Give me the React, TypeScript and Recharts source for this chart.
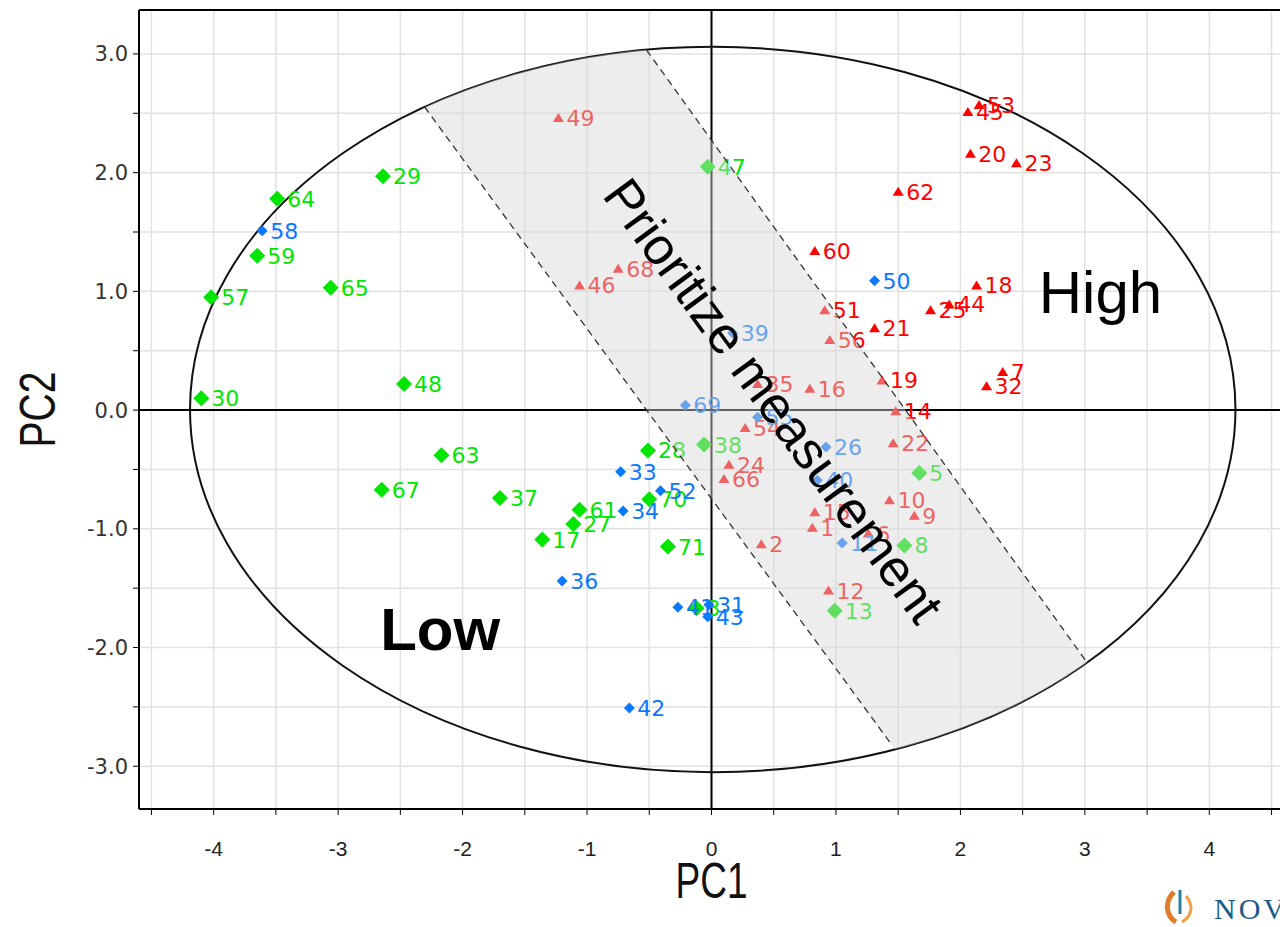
import {
  ScatterChart,
  Scatter,
  XAxis,
  YAxis,
  CartesianGrid,
  ReferenceLine,
  ReferenceArea,
  Label,
} from 'recharts';

// scores
const RED_LABELS = ['49', '68', '46', '62', '60', '51', '21', '56', '35', '16', '19', '14', '22', '54', '24', '66', '2', '15', '1', '6', '10', '9', '12', '45', '53', '20', '23', '18', '25', '44', '7', '32'];
const RED_PC1 = [-1.23, -0.75, -1.06, 1.5, 0.83, 0.91, 1.31, 0.95, 0.37, 0.79, 1.37, 1.48, 1.46, 0.27, 0.14, 0.1, 0.4, 0.83, 0.81, 1.26, 1.43, 1.63, 0.94, 2.06, 2.15, 2.08, 2.45, 2.13, 1.76, 1.91, 2.34, 2.21];
const RED_PC2 = [2.46, 1.19, 1.05, 1.84, 1.34, 0.84, 0.69, 0.59, 0.22, 0.18, 0.25, -0.01, -0.28, -0.15, -0.46, -0.58, -1.13, -0.86, -0.99, -1.04, -0.76, -0.89, -1.52, 2.51, 2.57, 2.16, 2.08, 1.05, 0.84, 0.89, 0.32, 0.2];

const GREEN_LABELS = ['64', '29', '59', '65', '57', '30', '48', '47', '63', '67', '37', '28', '38', '61', '27', '17', '70', '71', '5', '8', '13', '3'];
const GREEN_PC1 = [-3.49, -2.64, -3.65, -3.06, -4.02, -4.1, -2.47, -0.03, -2.17, -2.65, -1.7, -0.51, -0.06, -1.06, -1.11, -1.36, -0.5, -0.35, 1.67, 1.55, 0.99, -0.12];
const GREEN_PC2 = [1.78, 1.97, 1.3, 1.03, 0.95, 0.1, 0.22, 2.05, -0.38, -0.67, -0.74, -0.34, -0.29, -0.84, -0.96, -1.09, -0.75, -1.15, -0.53, -1.14, -1.69, -1.67];

const BLUE_LABELS = ['58', '50', '39', '69', '55', '26', '40', '11', '33', '52', '34', '36', '42', '41', '31', '43'];
const BLUE_PC1 = [-3.61, 1.31, 0.17, -0.21, 0.37, 0.92, 0.85, 1.05, -0.73, -0.41, -0.71, -1.2, -0.66, -0.27, -0.02, -0.03];
const BLUE_PC2 = [1.51, 1.09, 0.65, 0.04, -0.06, -0.31, -0.59, -1.12, -0.52, -0.68, -0.85, -1.44, -2.51, -1.66, -1.64, -1.74];

const X_TICKS = [-4.5, -4, -3.5, -3, -2.5, -2, -1.5, -1, -0.5, 0, 0.5, 1, 1.5, 2, 2.5, 3, 3.5, 4, 4.5];
const Y_TICKS = [-3, -2.5, -2, -1.5, -1, -0.5, 0, 0.5, 1, 1.5, 2, 2.5, 3];
const X_DOMAIN = [-4.6, 4.6];
const Y_DOMAIN = [-3.36, 3.37];

// confidence ellipse bounds and the "prioritize" band edges (data units)
const ELLIPSE_X = [-4.19, 4.21];
const ELLIPSE_Y = [-3.05, 3.06];
const BAND_LEFT = [[-2.305, 2.553], [1.438, -2.805]];
const BAND_RIGHT = [[-0.522, 3.033], [3.004, -2.106]];

const RED = '#ff0000';
const GREEN = '#00e600';
const BLUE = '#0a78ff';
const LABEL_FONT = '"DejaVu Sans", sans-serif';
const SANS = '"Liberation Sans", Arial, sans-serif';

const build = (labels: string[], xs: number[], ys: number[]) =>
  labels.map((id, i) => ({ id, x: xs[i], y: ys[i] }));

const redData = build(RED_LABELS, RED_PC1, RED_PC2);
const greenData = build(GREEN_LABELS, GREEN_PC1, GREEN_PC2);
const blueData = build(BLUE_LABELS, BLUE_PC1, BLUE_PC2);

const marker = (kind: string, color: string) => (props: any) => {
  const { cx, cy, payload } = props;
  if (cx == null || cy == null) return <g />;
  let mark;
  let dx = 8;
  if (kind === 'tri') {
    mark = <polygon points={`${cx},${cy - 5} ${cx + 5.5},${cy + 4} ${cx - 5.5},${cy + 4}`} fill={color} />;
  } else if (kind === 'big') {
    mark = <polygon points={`${cx},${cy - 8} ${cx + 8},${cy} ${cx},${cy + 8} ${cx - 8},${cy}`} fill={color} />;
    dx = 10;
  } else {
    mark = <polygon points={`${cx},${cy - 5.5} ${cx + 5.5},${cy} ${cx},${cy + 5.5} ${cx - 5.5},${cy}`} fill={color} />;
  }
  return (
    <g>
      {mark}
      <text x={cx + dx} y={cy + 8} fontFamily={LABEL_FONT} fontSize={22} fill={color}>
        {payload.id}
      </text>
    </g>
  );
};

// map data coords into pixels from the rect of a reference area spanning [-4,4] x [-3,3]
const frameMap = (r: any) => ({
  px: (x: number) => r.x + ((x + 4) / 8) * r.width,
  py: (y: number) => r.y + ((3 - y) / 6) * r.height,
});

const EllipseShape = (props: any) => {
  const { x, y, width, height } = props;
  return (
    <ellipse cx={x + width / 2} cy={y + height / 2} rx={width / 2} ry={height / 2} fill="none" stroke="#111" strokeWidth={2} />
  );
};

const OverlayShape = (props: any) => {
  const { px, py } = frameMap(props);
  const ecx = px((ELLIPSE_X[0] + ELLIPSE_X[1]) / 2);
  const ecy = py((ELLIPSE_Y[0] + ELLIPSE_Y[1]) / 2);
  const erx = (px(ELLIPSE_X[1]) - px(ELLIPSE_X[0])) / 2;
  const ery = (py(ELLIPSE_Y[0]) - py(ELLIPSE_Y[1])) / 2;
  const ext = (seg: number[][], t: number) => [
    px(seg[0][0] + t * (seg[1][0] - seg[0][0])),
    py(seg[0][1] + t * (seg[1][1] - seg[0][1])),
  ];
  const poly = [ext(BAND_LEFT, -0.3), ext(BAND_RIGHT, -0.3), ext(BAND_RIGHT, 1.3), ext(BAND_LEFT, 1.3)]
    .map((p) => p.join(','))
    .join(' ');
  const l1 = ext(BAND_LEFT, 0);
  const l2 = ext(BAND_LEFT, 1);
  const r1 = ext(BAND_RIGHT, 0);
  const r2 = ext(BAND_RIGHT, 1);
  const angle = (Math.atan2(l2[1] - l1[1], l2[0] - l1[0]) * 180) / Math.PI;
  const tx = px(0.5);
  const ty = py(0.08);
  return (
    <g>
      <defs>
        <clipPath id="ellClip">
          <ellipse cx={ecx} cy={ecy} rx={erx} ry={ery} />
        </clipPath>
      </defs>
      <polygon points={poly} fill="#d8d8d8" fillOpacity={0.45} clipPath="url(#ellClip)" />
      <line x1={l1[0]} y1={l1[1]} x2={l2[0]} y2={l2[1]} stroke="#333" strokeWidth={1.3} strokeDasharray="7 5" />
      <line x1={r1[0]} y1={r1[1]} x2={r2[0]} y2={r2[1]} stroke="#333" strokeWidth={1.3} strokeDasharray="7 5" />
      <text
        x={tx}
        y={ty}
        transform={`rotate(${angle}, ${tx}, ${ty})`}
        textAnchor="middle"
        dominantBaseline="central"
        fontFamily={SANS}
        fontSize={52}
        fill="#000"
      >
        Prioritize measurement
      </text>
      <text x={px(3.125)} y={py(0.817)} textAnchor="middle" fontFamily={SANS} fontSize={60} fill="#000">
        High
      </text>
      <text x={px(-2.18)} y={py(-2.02)} textAnchor="middle" fontFamily={SANS} fontWeight="bold" fontSize={60} fill="#000">
        Low
      </text>
    </g>
  );
};

const YTick = (props: any) => {
  const { x, y, payload } = props;
  const v = payload.value;
  if (!Number.isInteger(v)) return <g />;
  return (
    <text x={x} y={y} dy="0.36em" textAnchor="end" fontFamily={LABEL_FONT} fontSize={21} fill="#333">
      {v.toFixed(1)}
    </text>
  );
};

const XTick = (props: any) => {
  const { x, y, payload } = props;
  const v = payload.value;
  if (!Number.isInteger(v)) return <g />;
  return (
    <text x={x} y={y + 41} textAnchor="middle" fontFamily={SANS} fontSize={21} fill="#222">
      {String(v)}
    </text>
  );
};

const XTitle = (p: any) => {
  const vb = p.viewBox || { x: 139, y: 809, width: 1145 };
  return (
    <text x={vb.x + vb.width / 2} y={vb.y + 89} textAnchor="middle" fontFamily={SANS} fontSize={50} textLength={72} lengthAdjust="spacingAndGlyphs" fill="#111">
      PC1
    </text>
  );
};

const YTitle = (p: any) => {
  const vb = p.viewBox || { x: 0, y: 10, height: 799 };
  const cy = vb.y + vb.height / 2;
  return (
    <text x={55} y={cy} transform={`rotate(-90, 55, ${cy})`} textAnchor="middle" fontFamily={SANS} fontSize={50} textLength={76} lengthAdjust="spacingAndGlyphs" fill="#111">
      PC2
    </text>
  );
};

export default function App() {
  return (
    <div style={{ position: 'absolute', left: 0, top: 0, width: 1280, height: 927, overflow: 'hidden', background: '#fff' }}>
      <ScatterChart width={1300} height={927} margin={{ top: 10, right: 16, bottom: 0, left: 0 }}>
        <CartesianGrid stroke="#e2e2e2" strokeWidth={1.5} />
        <XAxis
          type="number"
          dataKey="x"
          domain={X_DOMAIN}
          ticks={X_TICKS}
          interval={0}
          height={118}
          axisLine={{ stroke: '#000', strokeWidth: 2 }}
          tickLine={{ stroke: '#000' }}
          tickSize={6}
          tickMargin={0}
          tick={<XTick />}
        >
          <Label content={<XTitle />} />
        </XAxis>
        <YAxis
          type="number"
          dataKey="y"
          domain={Y_DOMAIN}
          ticks={Y_TICKS}
          interval={0}
          width={139}
          axisLine={{ stroke: '#000', strokeWidth: 2 }}
          tickLine={{ stroke: '#000' }}
          tickSize={6}
          tickMargin={5}
          tick={<YTick />}
        >
          <Label content={<YTitle />} />
        </YAxis>
        <ReferenceLine y={Y_DOMAIN[1]} stroke="#000" strokeWidth={2} zIndex={120} />
        <ReferenceLine y={0} stroke="#000" strokeWidth={2} zIndex={120} />
        <ReferenceLine x={0} stroke="#000" strokeWidth={2} zIndex={120} />
        <ReferenceArea
          x1={ELLIPSE_X[0]}
          x2={ELLIPSE_X[1]}
          y1={ELLIPSE_Y[0]}
          y2={ELLIPSE_Y[1]}
          shape={<EllipseShape />}
          zIndex={130}
        />
        <Scatter data={redData} fill={RED} shape={marker('tri', RED)} isAnimationActive={false} />
        <Scatter data={greenData} fill={GREEN} shape={marker('big', GREEN)} isAnimationActive={false} />
        <Scatter data={blueData} fill={BLUE} shape={marker('small', BLUE)} isAnimationActive={false} />
        <ReferenceArea x1={-4} x2={4} y1={-3} y2={3} shape={<OverlayShape />} zIndex={700} />
      </ScatterChart>
      <div style={{ position: 'absolute', left: 1160, top: 888, display: 'flex', alignItems: 'flex-end' }}>
        <svg width={40} height={36}>
          <path d="M14 4 C4 14 6 28 16 34" stroke="#e07b2a" strokeWidth={5} fill="none" />
          <path d="M26 8 C34 18 32 28 22 34" stroke="#f0a040" strokeWidth={3} fill="none" />
          <line x1={20} y1={2} x2={20} y2={26} stroke="#2c7fa0" strokeWidth={3} />
        </svg>
        <span style={{ fontFamily: '"Liberation Serif", serif', fontSize: 30, color: '#1d5b86', letterSpacing: 3, marginLeft: 14, lineHeight: '30px' }}>
          NOV
        </span>
      </div>
    </div>
  );
}
